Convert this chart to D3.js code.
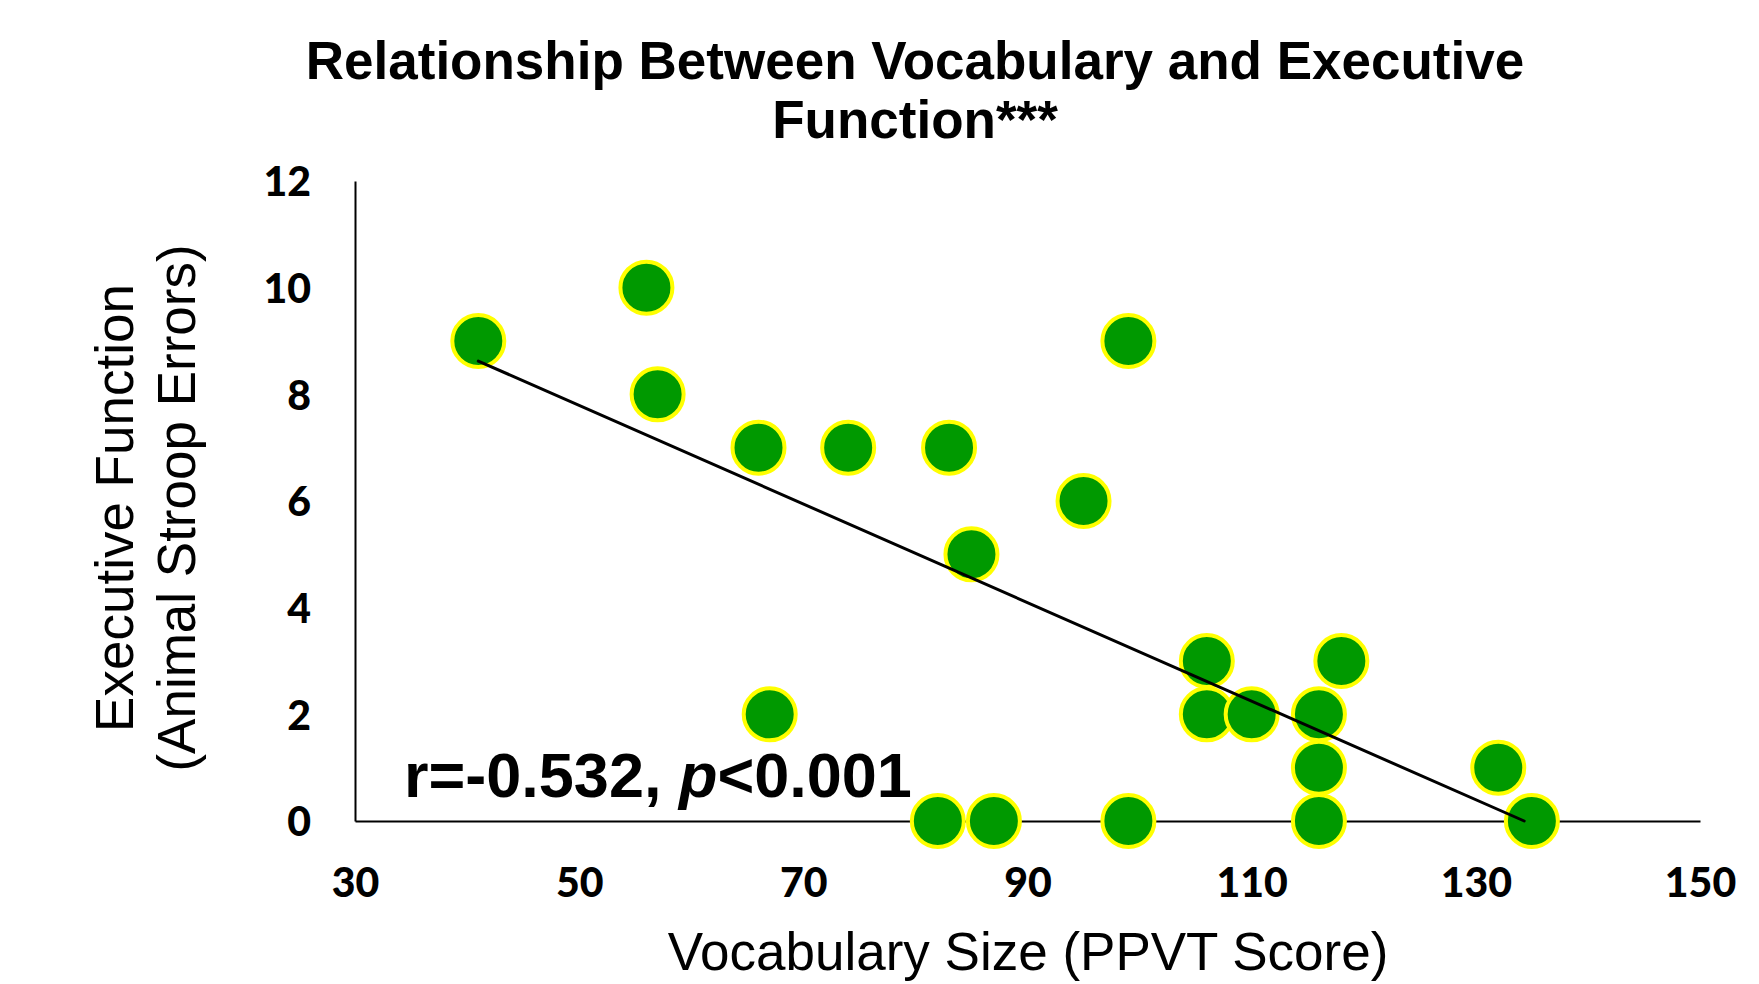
<!DOCTYPE html>
<html>
<head>
<meta charset="utf-8">
<script src="https://cdn.jsdelivr.net/npm/d3@7"></script>
<style>
  html, body { margin: 0; padding: 0; background: #ffffff; }
  svg { display: block; }
</style>
</head>
<body>
<svg id="chart" width="1759" height="984"></svg>
<script>
// ---- data ----
const vocab = [41, 56, 57, 66, 74, 83, 95, 85, 99, 67, 106, 118, 106, 110, 116, 116, 132, 82, 87, 99, 116, 135];
const errors = [9, 10, 8, 7, 7, 7, 6, 5, 9, 2, 3, 3, 2, 2, 2, 1, 1, 0, 0, 0, 0, 0];
const xTicks = [30, 50, 70, 90, 110, 130, 150];
const yTicks = [0, 2, 4, 6, 8, 10, 12];
const titleLines = ["Relationship Between Vocabulary and Executive", "Function***"];
const xTitle = "Vocabulary Size (PPVT Score)";
const yTitleLines = ["Executive Function", "(Animal Stroop Errors)"];

const svg = d3.select("#chart");
const plotL = 355, plotR = 1700, plotT = 181, plotB = 821;

const x = d3.scaleLinear().domain([30, 150]).range([plotL, plotR]);
const y = d3.scaleLinear().domain([0, 12]).range([plotB, plotT]);

// title
const title = svg.append("text")
  .attr("x", 915).attr("y", 79)
  .attr("text-anchor", "middle")
  .style("font-family", "'Liberation Sans', Arial, sans-serif")
  .style("font-weight", "bold")
  .style("font-size", "53px")
  .attr("fill", "#000");
titleLines.forEach((t, i) => {
  title.append("tspan").attr("x", 915).attr("y", 79 + i * 59).text(t);
});

// axes
const tickFont = "Lato, 'Open Sans', sans-serif";
const yAxis = svg.append("g")
  .attr("transform", `translate(${plotL},0)`)
  .call(d3.axisLeft(y).tickValues(yTicks).tickSize(0).tickPadding(44).tickFormat(d3.format("d")));
const xAxis = svg.append("g")
  .attr("transform", `translate(0,${plotB})`)
  .call(d3.axisBottom(x).tickValues(xTicks).tickSize(0).tickPadding(47).tickFormat(d3.format("d")));
[yAxis, xAxis].forEach(g => {
  g.select(".domain").attr("stroke", "#000").attr("stroke-width", 2);
  g.selectAll("text")
    .style("font-family", tickFont)
    .style("font-weight", "900")
    .style("font-size", "41px")
    .attr("fill", "#000");
});
yAxis.selectAll("text").attr("dy", "0.36em");

// axis titles
svg.append("text")
  .attr("x", 1028).attr("y", 970)
  .attr("text-anchor", "middle")
  .style("font-family", "'Liberation Sans', Arial, sans-serif")
  .style("font-size", "53px")
  .attr("fill", "#000")
  .text(xTitle);

const yt = svg.append("text")
  .attr("transform", "translate(0,508) rotate(-90)")
  .attr("text-anchor", "middle")
  .style("font-family", "'Liberation Sans', Arial, sans-serif")
  .style("font-size", "53px")
  .attr("fill", "#000");
yTitleLines.forEach((t, i) => {
  yt.append("tspan").attr("x", 0).attr("y", 133 + i * 62).text(t);
});

// points
const pts = vocab.map((v, i) => ({ x: v, y: errors[i] }));
svg.append("g").selectAll("circle")
  .data(pts)
  .join("circle")
  .attr("cx", d => x(d.x))
  .attr("cy", d => y(d.y))
  .attr("r", 26)
  .attr("fill", "#009900")
  .attr("stroke", "#ffff00")
  .attr("stroke-width", 4);

// linear trendline (least squares), clipped to the plot area (y >= 0)
const mx = d3.mean(vocab), my = d3.mean(errors);
const sxy = d3.sum(pts, d => (d.x - mx) * (d.y - my));
const sxx = d3.sum(pts, d => (d.x - mx) * (d.x - mx));
const slope = sxy / sxx, intercept = my - slope * mx;
let x0 = d3.min(vocab), x1 = d3.max(vocab);
if (slope * x1 + intercept < 0) x1 = -intercept / slope;
svg.append("line")
  .attr("x1", x(x0)).attr("y1", y(slope * x0 + intercept))
  .attr("x2", x(x1)).attr("y2", y(slope * x1 + intercept))
  .attr("stroke", "#000")
  .attr("stroke-width", 3)
  .attr("stroke-linecap", "round");

// annotation
const ann = svg.append("text")
  .attr("x", 404).attr("y", 797)
  .style("font-family", "'Liberation Sans', Arial, sans-serif")
  .style("font-weight", "bold")
  .style("font-size", "63px")
  .attr("fill", "#000");
ann.append("tspan").text("r=-0.532, ");
ann.append("tspan").style("font-style", "italic").text("p");
ann.append("tspan").text("<0.001");
</script>
</body>
</html>
